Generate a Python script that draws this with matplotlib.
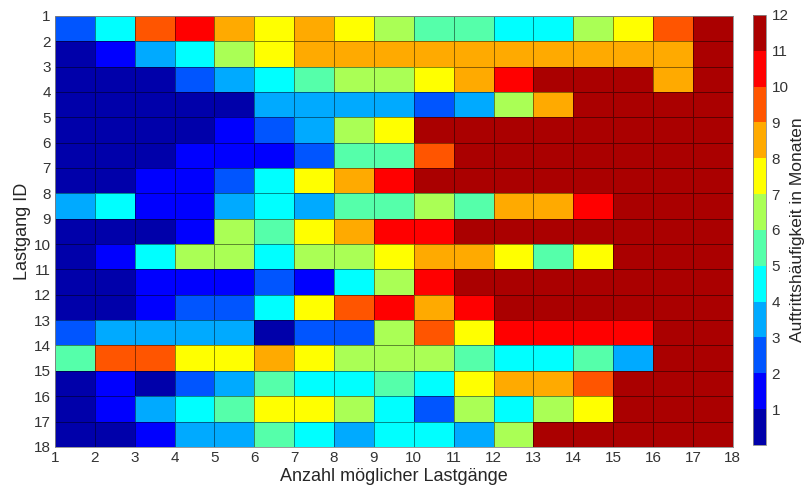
import numpy as np
import matplotlib
matplotlib.use("Agg")
import matplotlib.pyplot as plt
from matplotlib.colors import ListedColormap, BoundaryNorm

plt.rcParams['font.family'] = ['Liberation Sans', 'DejaVu Sans']

# Auftrittshäufigkeit (colour band 1..12), rows = Lastgang ID 1..17, cols = Anzahl 1..17
r01 = [3, 5, 10, 11, 9, 8, 9, 8, 7, 6, 6, 5, 5, 7, 8, 10, 12]
r02 = [1, 2, 4, 5, 7, 8, 9, 9, 9, 9, 9, 9, 9, 9, 9, 9, 12]
r03 = [1, 1, 1, 3, 4, 5, 6, 7, 7, 8, 9, 11, 12, 12, 12, 9, 12]
r04 = [1, 1, 1, 1, 1, 4, 4, 4, 4, 3, 4, 7, 9, 12, 12, 12, 12]
r05 = [1, 1, 1, 1, 2, 3, 4, 7, 8, 12, 12, 12, 12, 12, 12, 12, 12]
r06 = [1, 1, 1, 2, 2, 2, 3, 6, 6, 10, 12, 12, 12, 12, 12, 12, 12]
r07 = [1, 1, 2, 2, 3, 5, 8, 9, 11, 12, 12, 12, 12, 12, 12, 12, 12]
r08 = [4, 5, 2, 2, 4, 5, 4, 6, 6, 7, 6, 9, 9, 11, 12, 12, 12]
r09 = [1, 1, 1, 2, 7, 6, 8, 9, 11, 11, 12, 12, 12, 12, 12, 12, 12]
r10 = [1, 2, 5, 7, 7, 5, 7, 7, 8, 9, 9, 8, 6, 8, 12, 12, 12]
r11 = [1, 1, 2, 2, 2, 3, 2, 5, 7, 11, 12, 12, 12, 12, 12, 12, 12]
r12 = [1, 1, 2, 3, 3, 5, 8, 10, 11, 9, 11, 12, 12, 12, 12, 12, 12]
r13 = [3, 4, 4, 4, 4, 1, 3, 3, 7, 10, 8, 11, 11, 11, 11, 12, 12]
r14 = [6, 10, 10, 8, 8, 9, 8, 7, 7, 7, 6, 5, 5, 6, 4, 12, 12]
r15 = [1, 2, 1, 3, 4, 6, 5, 5, 6, 5, 8, 9, 9, 10, 12, 12, 12]
r16 = [1, 2, 4, 5, 6, 8, 8, 7, 5, 3, 7, 5, 7, 8, 12, 12, 12]
r17 = [1, 1, 2, 4, 4, 6, 5, 4, 5, 5, 4, 7, 12, 12, 12, 12, 12]
Z = np.array([r01, r02, r03, r04, r05, r06, r07, r08, r09, r10,
              r11, r12, r13, r14, r15, r16, r17])

x_edges = np.arange(1, 19)
y_edges = np.arange(1, 19)

# MATLAB jet(12)
jet12 = [(0, 0, 0.667), (0, 0, 1), (0, 0.333, 1), (0, 0.667, 1), (0, 1, 1),
         (0.333, 1, 0.667), (0.667, 1, 0.333), (1, 1, 0), (1, 0.667, 0),
         (1, 0.333, 0), (1, 0, 0), (0.667, 0, 0)]
cmap = ListedColormap(jet12)
norm_cells = BoundaryNorm(np.arange(0.5, 13.5), 12)
norm_bar = BoundaryNorm(np.arange(0, 13), 12)

fig = plt.figure(figsize=(8.08, 4.96), dpi=100)
ax = fig.add_axes([0.068, 0.099, 0.839, 0.869])
ax.pcolormesh(x_edges, y_edges, Z, cmap=cmap, norm=norm_cells,
              edgecolors=(0, 0, 0, 0.45), linewidth=0.6)
ax.set_xlim(1, 18)
ax.set_ylim(18, 1)
ax.set_xticks(x_edges)
ax.set_yticks(y_edges)
ax.tick_params(length=0, labelsize=11, colors='#333333', pad=3)
for s in ax.spines.values():
    s.set_color('#888888')
    s.set_linewidth(0.6)
ax.set_xlabel('Anzahl möglicher Lastgänge', fontsize=13, color='#262626', labelpad=2)
ax.set_ylabel('Lastgang ID', fontsize=13, color='#262626', labelpad=2)

cax = fig.add_axes([0.932, 0.103, 0.016, 0.867])
sm = plt.cm.ScalarMappable(cmap=cmap, norm=norm_bar)
cb = fig.colorbar(sm, cax=cax, ticks=np.arange(1, 13))
cb.minorticks_off()
cb.ax.tick_params(which='both', length=0, labelsize=11, colors='#333333', pad=4)
cb.outline.set_edgecolor('#888888')
cb.outline.set_linewidth(0.6)
cb.set_label('Auftrittshäufigkeit in Monaten', fontsize=12.5, color='#262626', labelpad=1)

fig.savefig('out.png', dpi=100)
